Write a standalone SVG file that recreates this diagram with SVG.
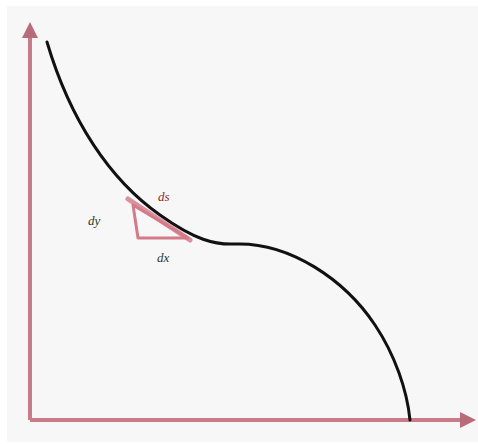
<svg xmlns="http://www.w3.org/2000/svg" width="478" height="444" viewBox="0 0 478 444">
<defs>
<style>
.axis{stroke:#c87c8a;stroke-width:4;fill:none}
.curve{stroke:#111;stroke-width:3;fill:none;stroke-linecap:round}
.tri{stroke:#d47a88;stroke-width:3;fill:none;stroke-linejoin:round}
.lbl{font-family:"Liberation Serif",serif;font-size:13px;font-style:italic}
</style>
<marker id="ah" viewBox="0 0 10 10" refX="5" refY="5" markerWidth="4" markerHeight="4" orient="auto">
<path d="M0,0 L10,5 L0,10 z" fill="#b86c7a"/>
</marker>
</defs>
<rect x="0" y="0" width="478" height="444" fill="#ffffff"/>
<rect x="7" y="6" width="471" height="436" fill="#f7f7f7"/>
<g id="axes">
<path class="axis" d="M30,420 L30,30" marker-end="url(#ah)"/>
<path class="axis" d="M30,420 L468,420" marker-end="url(#ah)"/>
</g>
<g id="curve">
<path class="curve" d="M47,42 C70,120 110,180 160,215 C195,240 215,245 235,244 C290,242 345,280 375,325 C395,355 407,390 410,420"/>
</g>
<g id="triangle">
<path class="tri" d="M133,205 L138,238 L188,238 Z" fill="#e9b4bc" fill-opacity="0.25"/>
<line x1="128" y1="199" x2="190" y2="240" stroke="#d47a88" stroke-width="5" stroke-linecap="round" opacity="0.8"/>
</g>
<g id="labels">
<text class="lbl" x="158" y="201" fill="#8b2a2a">ds</text>
<text class="lbl" x="88" y="225" fill="#2a3a2a">dy</text>
<text class="lbl" x="157" y="262" fill="#2a3a2a">dx</text>
</g>
</svg>
